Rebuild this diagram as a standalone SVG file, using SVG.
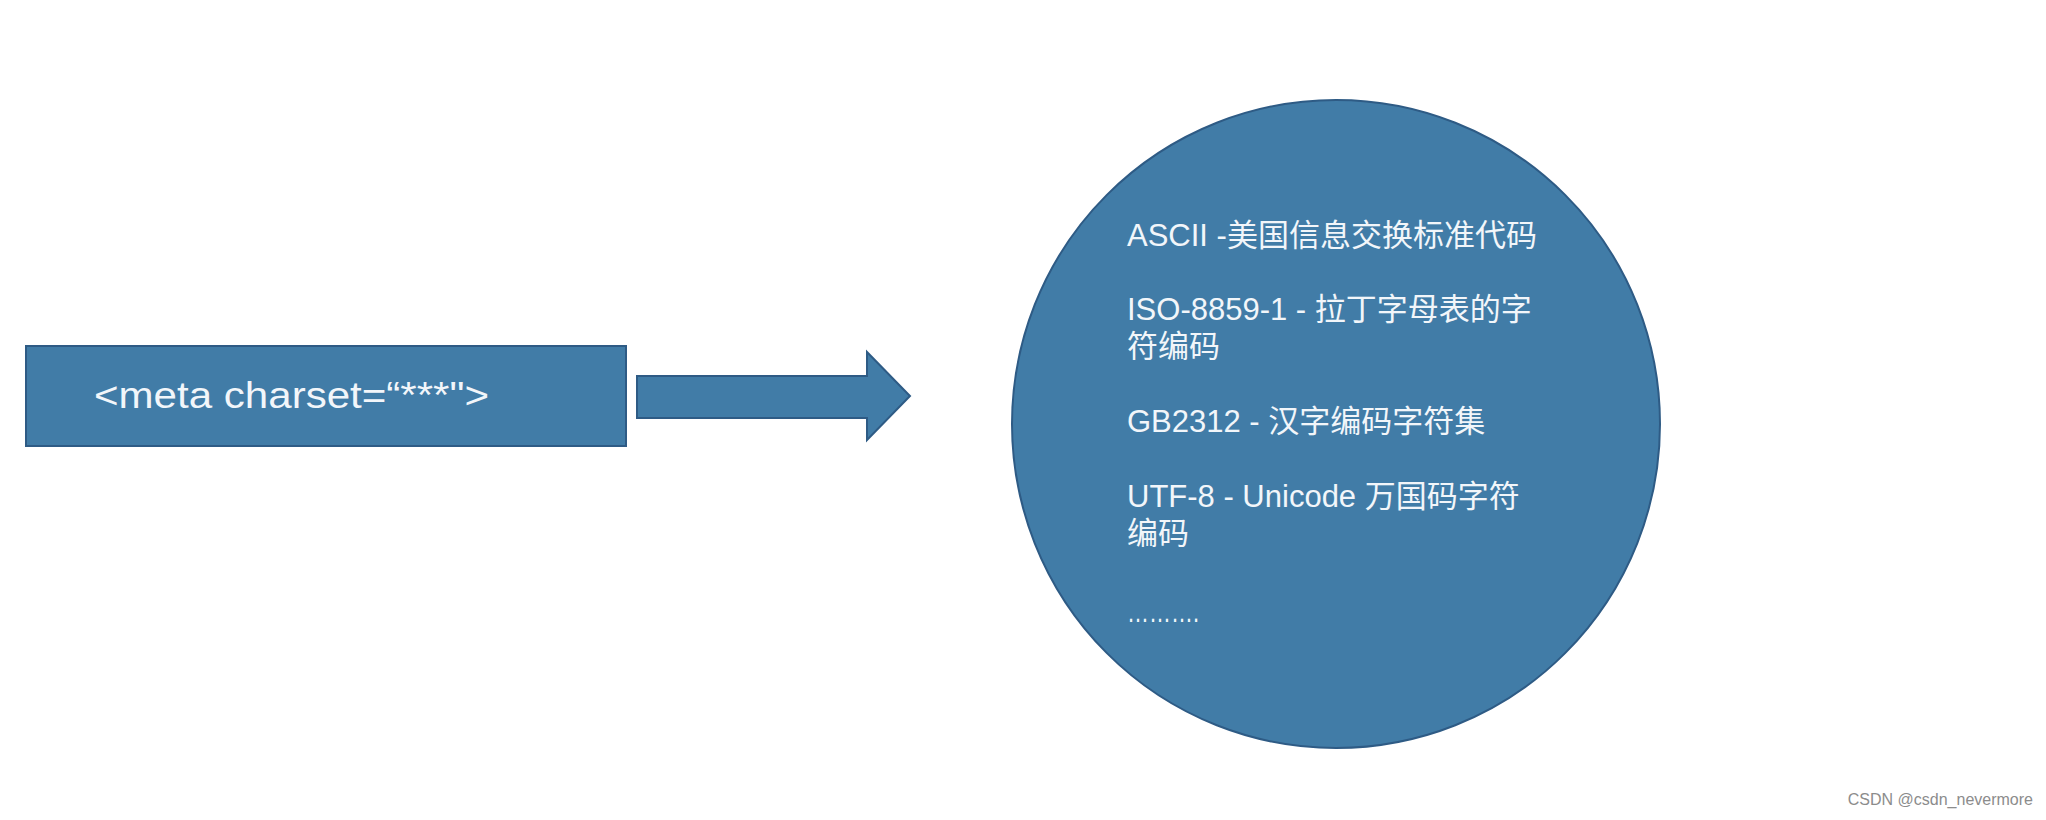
<svg xmlns="http://www.w3.org/2000/svg" width="2046" height="820" viewBox="0 0 2046 820">
  <style>
    .shape { fill: #417ca7; stroke: #2e5b85; stroke-width: 2; }
    .lbl { fill: #f2f6fa; font-family: "Liberation Sans", "Noto Sans CJK SC", sans-serif; font-size: 31px; }
    .meta { fill: #f2f6fa; font-family: "Liberation Sans", "Noto Sans CJK SC", sans-serif; font-size: 36px; }
    .wm { fill: #8c8c8c; font-family: "Liberation Sans", sans-serif; font-size: 16px; }
  </style>
  <rect width="2046" height="820" fill="#ffffff"/>
  <g id="node-meta">
    <rect class="shape" x="26" y="346" width="600" height="100"/>
    <text class="meta" x="94" y="408" textLength="395" lengthAdjust="spacingAndGlyphs">&lt;meta charset=“***"&gt;</text>
  </g>
  <g id="connectors">
    <path class="shape" d="M637,376 L867,376 L867,352 L910,396 L867,440 L867,418 L637,418 Z"/>
  </g>
  <g id="node-encodings">
    <circle class="shape" cx="1336" cy="424" r="324"/>
    <text class="lbl" x="1127" y="246">ASCII -美国信息交换标准代码</text>
    <text class="lbl" x="1127" y="320">ISO-8859-1 - 拉丁字母表的字</text>
    <text class="lbl" x="1127" y="357">符编码</text>
    <text class="lbl" x="1127" y="432">GB2312 - 汉字编码字符集</text>
    <text class="lbl" x="1127" y="507">UTF-8 - Unicode 万国码字符</text>
    <text class="lbl" x="1127" y="544">编码</text>
    <text class="lbl" font-size="22" x="1127" y="622" textLength="72" lengthAdjust="spacingAndGlyphs">……….</text>
  </g>
  <text class="wm" x="2033" y="805" text-anchor="end">CSDN @csdn_nevermore</text>
</svg>
